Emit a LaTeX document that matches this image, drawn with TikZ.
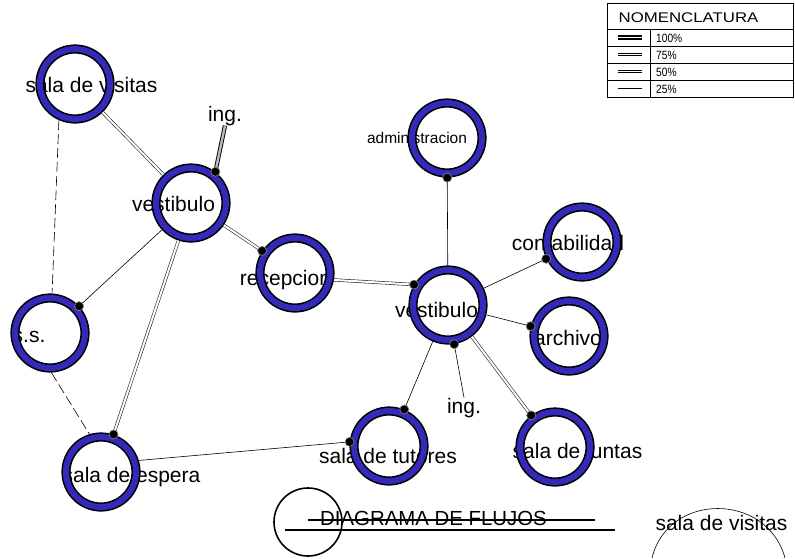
\documentclass[tikz,border=0pt]{standalone}
\usepackage{fontspec}
\setmainfont{Liberation Sans}
\definecolor{ringblue}{RGB}{52,42,185}
\begin{document}
\begin{tikzpicture}[x=1pt,y=-1pt,
  lbl/.style={font=\fontsize{21}{24}\selectfont, inner sep=0pt, anchor=base},
  ring/.style={circle, minimum size=70pt, inner sep=0pt, draw=black, line width=1.6pt,
               double=ringblue, double distance=6pt, outer sep=4.6pt},
  sgl/.style={draw=black, line width=0.6pt},
  dbl/.style={draw=black!85, line width=0.6pt, double=white, double distance=2pt},
  dblh/.style={draw=black, line width=0.9pt, double=gray!55, double distance=2.4pt},
  dsh/.style={draw=black, line width=0.6pt, dash pattern=on 10pt off 4pt},
  dotm/.style={circle, fill=black, draw=gray, line width=0.7pt, inner sep=0pt, minimum size=9pt},
  thk/.style={draw=black, line width=2pt},
  legtxt/.style={font=\fontsize{12}{14}\selectfont, inner sep=0pt, anchor=base west}
]
\useasboundingbox (0,0) rectangle (795,558);

% labels (drawn first, rings lie over them)
\node[lbl] (svt)  at (91.5,92)  {sala de visitas};
\node[lbl] (v1t)  at (173.5,211) {vestibulo};
\node[lbl] (ing1) at (225,121)  {ing.};
\node[lbl] (rect) at (285.5,285) {recepcion};
\node[lbl, font=\fontsize{15.5}{18}\selectfont] (admt) at (417,143) {administracion};
\node[lbl] (v2t)  at (436.5,317) {vestibulo};
\node[lbl] (contt) at (568,250) {contabilidad};
\node[lbl] (archt) at (568,345) {archivo};
\node[lbl] (ing2) at (464,413)  {ing.};
\node[lbl] (tutt) at (388,463)  {sala de tutores};
\node[lbl] (junt) at (577.5,458) {sala de juntas};
\node[lbl] (sst)  at (29,342)   {s.s.};
\node[lbl] (set)  at (131.5,482) {sala de espera};

% rings
\node[ring] (sv)   at (75,84)   {};
\node[ring] (v1)   at (191,203) {};
\node[ring] (rec)  at (295,273) {};
\node[ring] (adm)  at (447,138) {};
\node[ring] (v2)   at (448,305) {};
\node[ring] (cont) at (582,242) {};
\node[ring] (arch) at (569,336) {};
\node[ring] (jun)  at (555,447) {};
\node[ring] (tut)  at (389,446) {};
\node[ring] (ss)   at (50,333)  {};
\node[ring] (se)   at (101,472) {};

% connectors
\draw[dbl]  (sv) -- (v1);
\draw[dblh] (ing1.south) -- (v1.52);
\draw[dsh]  (sv.-114) -- (ss.87);
\draw[dsh]  (ss.-88) -- (se.107);
\draw[sgl]  (v1) -- (ss);
\draw[dbl]  (v1) -- (se);
\draw[dbl]  (v1) -- (rec);
\draw[dbl]  (rec.-10) -- (v2.149);
\draw[sgl]  (adm) -- (v2);
\draw[sgl]  (v2) -- (cont);
\draw[sgl]  (v2) -- (arch);
\draw[dbl]  (v2) -- (jun);
\draw[sgl]  (v2.-81) -- (ing2.north);
\draw[sgl]  (v2) -- (tut);
\draw[sgl]  (se.17) -- (tut.174);

% dots
\node[dotm] at (v1.52) {};
\path (v1) -- (ss) node[dotm, pos=1] {};
\path (v1) -- (se) node[dotm, pos=1] {};
\path (v1) -- (rec) node[dotm, pos=1] {};
\node[dotm] at (v2.149) {};
\path (v2) -- (adm) node[dotm, pos=1] {};
\path (v2) -- (cont) node[dotm, pos=1] {};
\path (v2) -- (arch) node[dotm, pos=1] {};
\path (v2) -- (jun) node[dotm, pos=1] {};
\node[dotm] at (v2.-81) {};
\path (v2) -- (tut) node[dotm, pos=1] {};
\node[dotm] at (tut.174) {};

% title
\node[draw=black, line width=1.6pt, circle, minimum size=68pt, inner sep=0pt] (tc) at (308,522) {};
\node[lbl, font=\fontsize{20.4}{24}\selectfont] (title) at (433.5,525) {DIAGRAMA DE FLUJOS};
\coordinate (s1) at (308,520);
\coordinate (s2) at (595,520);
\coordinate (u1) at (285,530);
\coordinate (u2) at (615,530);
\draw[thk] (s1) -- (s2);
\draw[thk] (u1) -- (u2);

% bottom-right sample
\node[lbl] (svb) at (721.5,530) {sala de visitas};
\coordinate (a1) at (652,558);
\coordinate (a2) at (785,558);
\draw[sgl] (a1) .. controls (668,492) and (767,492) .. (a2);

% nomenclature table
\coordinate (t1) at (607,3);
\coordinate (t2) at (793,97);
\draw[line width=0.6pt] (t1) rectangle (t2);
\foreach \yy in {29,46,63,80} \draw[line width=0.6pt] (607,\yy) -- (793,\yy);
\draw[line width=0.6pt] (650,29) -- (650,97);
\node[font=\fontsize{14}{16}\selectfont, inner sep=0pt, anchor=base] (nom) at (688.5,22) {\scalebox{1.2}[1]{NOMENCLATURA}};
\node[legtxt] (p100) at (656,42) {\scalebox{0.85}[1]{100\%}};
\node[legtxt] (p75)  at (656,59) {\scalebox{0.85}[1]{75\%}};
\node[legtxt] (p50)  at (656,76) {\scalebox{0.85}[1]{50\%}};
\node[legtxt] (p25)  at (656,93) {\scalebox{0.85}[1]{25\%}};
\coordinate (l1a) at (618,37.5); \coordinate (l1b) at (642,37.5);
\coordinate (l2a) at (618,54.5); \coordinate (l2b) at (642,54.5);
\coordinate (l3a) at (618,71.5); \coordinate (l3b) at (642,71.5);
\coordinate (l4a) at (618,88.5); \coordinate (l4b) at (642,88.5);
\draw[line width=1.6pt, double=white, double distance=1pt] (l1a) -- (l1b);
\draw[line width=1.2pt, double=white, double distance=1.4pt] (l2a) -- (l2b);
\draw[line width=0.8pt, double=white, double distance=1.8pt] (l3a) -- (l3b);
\draw[line width=0.8pt] (l4a) -- (l4b);
\end{tikzpicture}
\end{document}
